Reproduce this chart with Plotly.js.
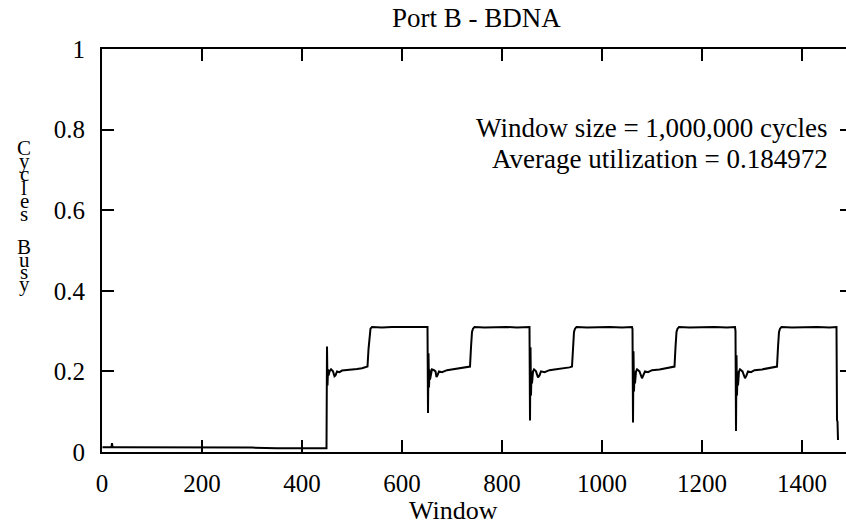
<!DOCTYPE html>
<html>
<head>
<meta charset="utf-8">
<script src="https://cdn.plot.ly/plotly-3.0.1.min.js"></script>
<style>
html, body { margin: 0; padding: 0; background: #fff; overflow: hidden; }
#chart { width: 852px; height: 527px; }
</style>
</head>
<body>
<div id="chart"></div>
<script>
// ---- data ----
const windowIndex = [
  1, 10, 19, 20, 21, 30, 100, 200, 300, 350, 400, 449,
  450, 451, 452, 453, 455, 458, 462, 465, 467, 470, 475, 480, 490, 500, 510, 520, 530, 531,
  533, 535, 537, 540, 560, 580, 600, 620, 640, 651,
  652, 653, 654, 655, 656, 658, 660, 664, 667, 669, 671, 674, 680, 690, 700, 715, 730, 736,
  738, 740, 742, 745, 765, 790, 810, 830, 855,
  856, 857, 858, 859, 860, 862, 864, 868, 872, 875, 878, 885, 895, 905, 920, 935, 940,
  942, 944, 946, 949, 970, 995, 1015, 1040, 1060, 1061,
  1062, 1063, 1064, 1065, 1066, 1068, 1070, 1075, 1080, 1083, 1086, 1092, 1100, 1115, 1130, 1140, 1145,
  1147, 1149, 1151, 1154, 1175, 1200, 1225, 1250, 1266, 1267,
  1268, 1269, 1270, 1271, 1272, 1274, 1276, 1281, 1286, 1289, 1292, 1298, 1305, 1320, 1335, 1345, 1350,
  1352, 1354, 1356, 1359, 1380, 1405, 1430, 1455, 1469,
  1470, 1471, 1472
];
const cyclesBusy = [
  0.012, 0.012, 0.012, 0.022, 0.012, 0.012, 0.012, 0.011, 0.011, 0.009, 0.009, 0.009,
  0.262, 0.165, 0.205, 0.19, 0.2, 0.205, 0.2, 0.188, 0.19, 0.2, 0.198, 0.202, 0.203, 0.205, 0.206, 0.208, 0.21, 0.212,
  0.255, 0.295, 0.306, 0.31, 0.309, 0.31, 0.31, 0.309, 0.31, 0.31,
  0.097, 0.245, 0.16, 0.205, 0.18, 0.2, 0.205, 0.203, 0.2, 0.186, 0.19, 0.2, 0.198, 0.203, 0.205, 0.207, 0.21, 0.212,
  0.26, 0.298, 0.306, 0.31, 0.309, 0.31, 0.31, 0.309, 0.31,
  0.078, 0.26, 0.14, 0.2, 0.17, 0.2, 0.205, 0.2, 0.185, 0.19, 0.2, 0.198, 0.203, 0.205, 0.207, 0.21, 0.212,
  0.26, 0.298, 0.306, 0.31, 0.309, 0.31, 0.31, 0.309, 0.31, 0.305,
  0.073, 0.25, 0.15, 0.2, 0.17, 0.2, 0.205, 0.2, 0.183, 0.19, 0.2, 0.198, 0.203, 0.205, 0.208, 0.21, 0.212,
  0.26, 0.298, 0.306, 0.31, 0.309, 0.31, 0.31, 0.309, 0.31, 0.3,
  0.052, 0.24, 0.14, 0.2, 0.165, 0.2, 0.205, 0.2, 0.183, 0.19, 0.2, 0.198, 0.203, 0.205, 0.208, 0.21, 0.212,
  0.26, 0.298, 0.306, 0.31, 0.309, 0.31, 0.31, 0.309, 0.31,
  0.08, 0.075, 0.03
];
const xTickVals = [0, 200, 400, 600, 800, 1000, 1200, 1400];
const yTickVals = [0, 0.2, 0.4, 0.6, 0.8, 1];
const chartTitle = "Port B - BDNA";
const xTitle = "Window";
const yTitleChars = ["C", "y", "c", "l", "e", "s", "B", "u", "s", "y"];
const infoLines = ["Window size = 1,000,000 cycles", "Average utilization = 0.184972"];

// ---- layout helpers (pixel placement) ----
const FONT = "Liberation Serif";
const W = 852, H = 527, ML = 102, MR = 0, MT = 49, MB = 75;
const PW = W - ML - MR, PH = H - MT - MB;
const px = (x) => (x - ML) / PW;
const py = (y) => (H - MB - y) / PH;

const yTitleBaselines = [157, 170, 183, 197, 210, 223, 256, 268.5, 281, 293];

const annotations = [];
yTitleChars.forEach((ch, i) => {
  annotations.push({
    text: ch, xref: "paper", yref: "paper",
    x: px(24), y: py(yTitleBaselines[i] + 5), xanchor: "center", yanchor: "bottom",
    showarrow: false, font: { family: FONT, size: 21, color: "#000" }
  });
});
annotations.push({
  text: infoLines[0], xref: "paper", yref: "paper",
  x: px(830), y: py(138 + 7), xanchor: "right", yanchor: "bottom",
  showarrow: false, font: { family: FONT, size: 27, color: "#000" }
});
annotations.push({
  text: infoLines[1], xref: "paper", yref: "paper",
  x: px(830), y: py(169 + 7), xanchor: "right", yanchor: "bottom",
  showarrow: false, font: { family: FONT, size: 27, color: "#000" }
});
annotations.push({
  text: xTitle, xref: "paper", yref: "paper",
  x: px(453), y: py(520 + 7), xanchor: "center", yanchor: "bottom",
  showarrow: false, font: { family: FONT, size: 26, color: "#000" }
});
annotations.push({
  text: chartTitle, xref: "paper", yref: "paper",
  x: px(476), y: py(28 + 7), xanchor: "center", yanchor: "bottom",
  showarrow: false, font: { family: FONT, size: 27, color: "#000" }
});

const trace = {
  x: windowIndex, y: cyclesBusy, type: "scatter", mode: "lines",
  line: { color: "#000", width: 2 }, hoverinfo: "skip"
};

const axisCommon = {
  showline: true, linecolor: "#000", linewidth: 2, mirror: "ticks",
  ticks: "inside", ticklen: 12, tickwidth: 2, tickcolor: "#000",
  showgrid: false, zeroline: false,
  tickfont: { family: FONT, size: 25, color: "#000" }
};

const layout = {
  width: W, height: H,
  font: { family: FONT, color: "#000" },
  margin: { l: ML, r: MR, t: MT, b: MB, pad: 0 },
  paper_bgcolor: "#fff", plot_bgcolor: "#fff",
  showlegend: false,
  xaxis: Object.assign({}, axisCommon, {
    range: [0, 1500], tickmode: "array", tickvals: xTickVals,
    ticktext: xTickVals.map(String), ticklabelstandoff: 8
  }),
  yaxis: Object.assign({}, axisCommon, {
    range: [0, 1], tickmode: "array", tickvals: yTickVals,
    ticktext: yTickVals.map(String), ticklabelstandoff: 10
  }),
  annotations: annotations
};

Plotly.newPlot("chart", [trace], layout, { displayModeBar: false, staticPlot: true });
</script>
</body>
</html>
